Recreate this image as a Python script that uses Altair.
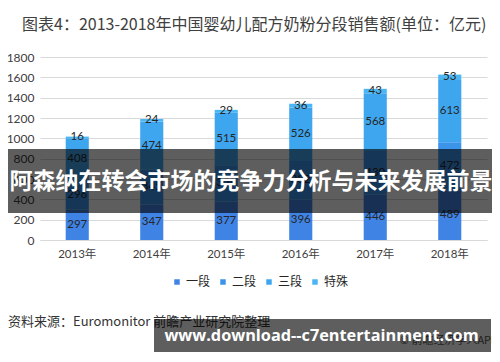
import altair as alt
import pandas as pd

years = ["2013年", "2014年", "2015年", "2016年", "2017年", "2018年"]
segments = ["一段", "二段", "三段", "特殊"]
seg1 = [297, 347, 377, 396, 446, 489]
seg2 = [296, 345, 359, 382, 430, 472]
seg3 = [408, 474, 515, 526, 568, 613]
seg4 = [16, 24, 29, 36, 43, 53]
colors = ["#3f83e5", "#3b93ea", "#3ea5ef", "#4ab6f4"]
y_ticks = [0, 200, 400, 600, 800, 1000, 1200, 1400, 1600, 1800]

title_text = "图表4：2013-2018年中国婴幼儿配方奶粉分段销售额(单位：亿元)"
band_text = "阿森纳在转会市场的竞争力分析与未来发展前景"
source_text = "资料来源：Euromonitor 前瞻产业研究院整理"
site_text = "www.download--c7entertainment.com"
app_text = "© 前瞻经济学人APP"

rows = []
for i, y in enumerate(years):
    for k, (s, vals) in enumerate(zip(segments, [seg1, seg2, seg3, seg4])):
        rows.append({"year": y, "seg": s, "ord": k, "value": vals[i]})
df = pd.DataFrame(rows)

FONT = "Noto Sans CJK SC"
NUMFONT = "Lato, Noto Sans CJK SC"

x_axis = alt.Axis(labelAngle=0, ticks=False, domain=True, domainColor="#d9d9d9",
                  labelPadding=8, labelFontSize=11.5, labelColor="#404040", labelFont=NUMFONT)
x_scale = alt.Scale(paddingInner=0.69, paddingOuter=0.345)
y_axis = alt.Axis(values=y_ticks, format="d", labelOverlap=False, grid=True, gridColor="#d9d9d9",
                  domain=False, ticks=False,
                  labelPadding=6, labelFontSize=12, labelColor="#404040", labelFont=NUMFONT)
y_scale = alt.Scale(domain=[0, 1800], nice=False)

base = alt.Chart(df)

bars = base.mark_bar().encode(
    x=alt.X("year:N", sort=years, title=None, scale=x_scale, axis=x_axis),
    y=alt.Y("value:Q", stack="zero", title=None, scale=y_scale, axis=y_axis),
    color=alt.Color("seg:N", sort=segments, scale=alt.Scale(domain=segments, range=colors),
                    legend=alt.Legend(title=None, orient="none", direction="horizontal",
                                      legendX=131, legendY=219, symbolType="square", symbolSize=30,
                                      labelFontSize=12, labelFont=FONT, labelColor="#262626",
                                      columnPadding=6, labelOffset=3, padding=0)),
    order=alt.Order("ord:Q", sort="ascending"),
)

labels = base.transform_stack(
    stack="value", groupby=["year"], as_=["y0", "y1"], sort=[alt.SortField("ord", "ascending")]
).transform_calculate(mid="(datum.y0 + datum.y1) / 2").mark_text(
    fontSize=11.5, color="#262626", font=NUMFONT, baseline="middle"
).encode(
    x=alt.X("year:N", sort=years, title=None, scale=x_scale, axis=x_axis),
    y=alt.Y("mid:Q", title=None, scale=y_scale, axis=y_axis),
    text=alt.Text("value:Q"),
)

one = pd.DataFrame({"t": [0]})

title_mark = alt.Chart(pd.DataFrame({"t": [title_text]})).mark_text(
    align="left", baseline="middle", fontSize=16, font=FONT, color="#404040"
).encode(text="t:N", x=alt.value(-18), y=alt.value(-32))

band = alt.Chart(one).mark_rect(color="black", opacity=0.63).encode(
    x=alt.value(-32), x2=alt.value(452), y=alt.value(92), y2=alt.value(156))

band_label = alt.Chart(pd.DataFrame({"t": [band_text]})).mark_text(
    align="center", baseline="middle", fontSize=23, fontWeight="bold", font=FONT, color="white"
).encode(text="t:N", x=alt.value(211), y=alt.value(125))

source = alt.Chart(pd.DataFrame({"t": [source_text]})).mark_text(
    align="left", baseline="middle", fontSize=13, font=FONT, color="#333333"
).encode(text="t:N", x=alt.value(-32), y=alt.value(265))

app = alt.Chart(pd.DataFrame({"t": [app_text]})).mark_text(
    align="right", baseline="middle", fontSize=11, font=FONT, color="#555555"
).encode(text="t:N", x=alt.value(458), y=alt.value(284))

banner = alt.Chart(one).mark_rect(color="black", opacity=0.63).encode(
    x=alt.value(114), x2=alt.value(451), y=alt.value(262), y2=alt.value(295))

site = alt.Chart(pd.DataFrame({"t": [site_text]})).mark_text(
    align="center", baseline="middle", fontSize=16.3, fontWeight="bold", font="Open Sans", color="white"
).encode(text="t:N", x=alt.value(281.5), y=alt.value(279))

chart = alt.layer(bars, labels, title_mark, band, band_label, source, app, banner, site).properties(
    width=447, height=183,
    autosize=alt.AutoSizeParams(type="none"),
    padding={"left": 32, "top": 49, "right": 5, "bottom": 114},
    background="white",
).configure_view(stroke=None).configure_axisY(labelOverlap=False)

chart.save("out.html", embed_options={"renderer": "svg", "actions": False})
